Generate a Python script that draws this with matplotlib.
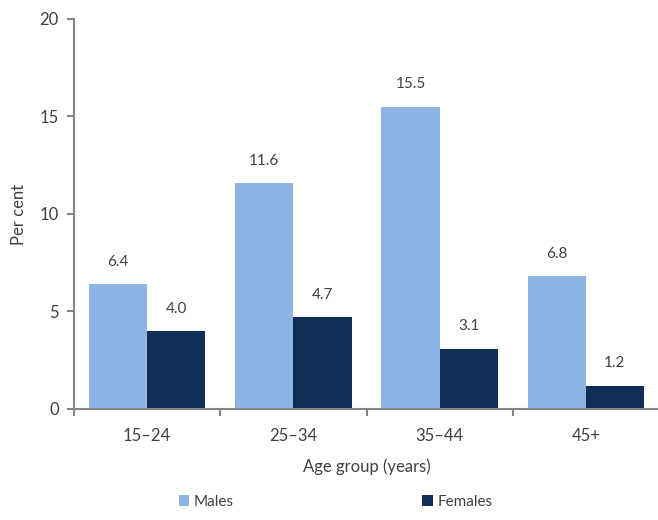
import matplotlib
import numpy as np
import matplotlib.pyplot as plt

matplotlib.rc('font', family=['Lato', 'DejaVu Sans'])

groups = ['15–24', '25–34', '35–44', '45+']
males = [6.4, 11.6, 15.5, 6.8]
females = [4.0, 4.7, 3.1, 1.2]

male_col = '#8db4e2'
female_col = '#112e57'
text_col = '#404040'
axis_col = '#868686'

fig = plt.figure(figsize=(6.58, 5.20), dpi=100)
ax = fig.add_axes([0.1125, 0.2135, 0.889, 0.75])

x = np.arange(len(groups))
w = 0.398
b1 = ax.bar(x - w / 2, males, w, color=male_col, label='Males')
b2 = ax.bar(x + w / 2, females, w, color=female_col, label='Females')

for bars, vals in ((b1, males), (b2, females)):
    for r, v in zip(bars, vals):
        ax.annotate(f'{v:.1f}', (r.get_x() + r.get_width() / 2, v),
                    xytext=(0, 11), textcoords='offset points',
                    ha='center', va='bottom', fontsize=11, color=text_col)

ax.set_xlim(-0.5, 3.5)
ax.set_ylim(0, 20)
ax.set_yticks([0, 5, 10, 15, 20])
ax.set_xticks(x)
ax.set_xticklabels(groups)
ax.set_xticks([-0.5, 0.5, 1.5, 2.5], minor=True)
ax.tick_params(axis='x', which='major', length=0, pad=14, labelsize=12, labelcolor=text_col)
ax.tick_params(axis='x', which='minor', length=5, width=1.5, color=axis_col)
ax.tick_params(axis='y', length=5, width=1.5, color=axis_col, labelsize=12, labelcolor=text_col, pad=6)

for s in ('top', 'right'):
    ax.spines[s].set_visible(False)
for s in ('left', 'bottom'):
    ax.spines[s].set_color(axis_col)
    ax.spines[s].set_linewidth(1.5)

ax.set_xlabel('Age group (years)', fontsize=12, color=text_col, labelpad=10)
ax.set_ylabel('Per cent', fontsize=12, color=text_col, labelpad=9)

fig.legend(loc='lower center', bbox_to_anchor=(0.51, -0.005), ncol=2, frameon=False,
           fontsize=11, labelcolor=text_col, handlelength=0.7, handleheight=0.7,
           handletextpad=0.3, columnspacing=12.3)

fig.savefig('out.png', dpi=100)
